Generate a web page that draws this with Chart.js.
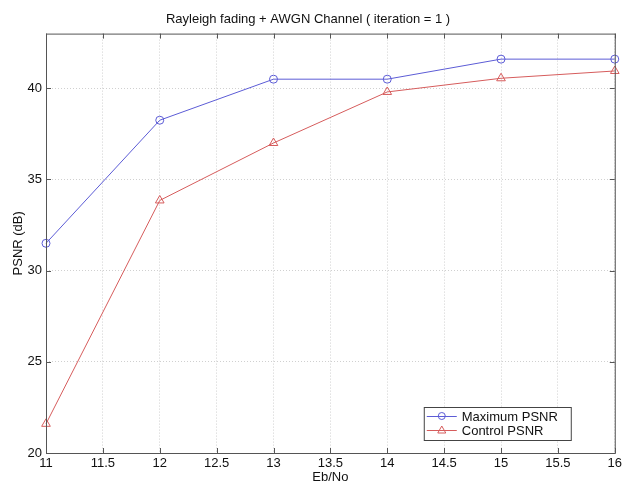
<!DOCTYPE html>
<html>
<head>
<meta charset="utf-8">
<script src="https://cdn.jsdelivr.net/npm/chart.js@4"></script>
<style>
  html, body { margin: 0; padding: 0; background: #fff; }
  #wrap { width: 625px; height: 485px; }
</style>
</head>
<body>
<div id="wrap"><canvas id="psnrChart" width="625" height="485"></canvas></div>
<script>
// Rayleigh fading + AWGN, PSNR vs Eb/No

const ebNo = [11, 12, 13, 14, 15, 16];
const maxPsnr = [31.5, 38.25, 40.5, 40.5, 41.6, 41.6];
const controlPsnr = [21.6, 33.85, 37.0, 39.8, 40.55, 40.95];
const xTicks = [11, 11.5, 12, 12.5, 13, 13.5, 14, 14.5, 15, 15.5, 16];
const yTicks = [20, 25, 30, 35, 40];

const FONT = 'Liberation Sans, Arial, sans-serif';
const BLUE = '#5c5cd6';
const RED = '#d65c5c';

// MATLAB-style box round the axes with inward tick marks
const frameBoxPlugin = {
    id: 'frameBox',
    afterDatasetsDraw(chart) {
        const { ctx, chartArea: a, scales } = chart;
        ctx.save();
        ctx.strokeStyle = '#555';
        ctx.lineWidth = 1;
        ctx.strokeRect(a.left + 0.5, a.top + 0.5, a.right - a.left, a.bottom - a.top);
        ctx.beginPath();
        xTicks.forEach(v => {
            const x = Math.round(scales.x.getPixelForValue(v)) + 0.5;
            ctx.moveTo(x, a.bottom); ctx.lineTo(x, a.bottom - 5);
            ctx.moveTo(x, a.top); ctx.lineTo(x, a.top + 5);
        });
        yTicks.forEach(v => {
            const y = Math.round(scales.y.getPixelForValue(v)) + 0.5;
            ctx.moveTo(a.left, y); ctx.lineTo(a.left + 5, y);
            ctx.moveTo(a.right, y); ctx.lineTo(a.right - 5, y);
        });
        ctx.stroke();
        ctx.restore();
    }
};

// legend box inside the lower right corner
const innerLegendPlugin = {
    id: 'innerLegend',
    afterDraw(chart) {
        const { ctx, chartArea: a } = chart;
        const w = 147, h = 33;
        const x0 = a.right - 44 - w;
        const y0 = a.bottom - 13 - h;
        ctx.save();
        ctx.fillStyle = '#fff';
        ctx.fillRect(x0, y0, w, h);
        ctx.strokeStyle = '#444';
        ctx.lineWidth = 1;
        ctx.strokeRect(x0 + 0.5, y0 + 0.5, w, h);
        ctx.font = `13px ${FONT}`;
        ctx.textBaseline = 'middle';
        chart.data.datasets.forEach((ds, i) => {
            const cy = y0 + 9 + i * 14;
            ctx.strokeStyle = ds.borderColor;
            ctx.beginPath();
            ctx.moveTo(x0 + 3, cy + 0.5);
            ctx.lineTo(x0 + 33, cy + 0.5);
            ctx.stroke();
            ctx.beginPath();
            if (ds.pointStyle === 'circle') {
                ctx.arc(x0 + 18, cy, 3.5, 0, Math.PI * 2);
            } else {
                ctx.moveTo(x0 + 18, cy - 4);
                ctx.lineTo(x0 + 22, cy + 3);
                ctx.lineTo(x0 + 14, cy + 3);
                ctx.closePath();
            }
            ctx.stroke();
            ctx.fillStyle = '#111';
            ctx.fillText(ds.label, x0 + 38, cy + 1);
        });
        ctx.restore();
    }
};

const gridOpts = {
    color: '#d0d0d0',
    lineWidth: 1,
    drawTicks: false
};

new Chart(document.getElementById('psnrChart').getContext('2d'), {
    type: 'line',
    plugins: [frameBoxPlugin, innerLegendPlugin],
    data: {
        datasets: [
            {
                label: 'Maximum PSNR',
                data: ebNo.map((x, i) => ({ x: x, y: maxPsnr[i] })),
                borderColor: BLUE,
                backgroundColor: 'rgba(0,0,0,0)',
                borderWidth: 1,
                pointStyle: 'circle',
                pointRadius: 4,
                pointBorderWidth: 1,
                tension: 0
            },
            {
                label: 'Control PSNR',
                data: ebNo.map((x, i) => ({ x: x, y: controlPsnr[i] })),
                borderColor: RED,
                backgroundColor: 'rgba(0,0,0,0)',
                borderWidth: 1,
                pointStyle: 'triangle',
                pointRadius: 5,
                pointBorderWidth: 1,
                tension: 0
            }
        ]
    },
    options: {
        responsive: false,
        animation: false,
        clip: false,
        layout: { padding: { left: 0, right: 9, top: 0, bottom: 0 } },
        plugins: {
            legend: { display: false },
            tooltip: { enabled: false },
            title: {
                display: true,
                text: 'Rayleigh fading + AWGN Channel ( iteration = 1 )',
                color: '#111',
                font: { family: FONT, size: 13, weight: 'normal' },
                padding: { top: 12, bottom: 6 }
            }
        },
        scales: {
            x: {
                type: 'linear',
                min: 11,
                max: 16,
                afterBuildTicks: scale => { scale.ticks = xTicks.map(v => ({ value: v })); },
                afterFit: scale => { scale.height = 32; },
                grid: gridOpts,
                border: { display: false, dash: [1, 2] },
                ticks: {
                    color: '#111',
                    padding: 3,
                    maxRotation: 0,
                    font: { family: FONT, size: 13 },
                    callback: v => String(v)
                },
                title: {
                    display: true,
                    text: 'Eb/No',
                    color: '#111',
                    font: { family: FONT, size: 13 },
                    padding: { top: 0, bottom: 0 }
                }
            },
            y: {
                type: 'linear',
                min: 20,
                max: 43,
                afterBuildTicks: scale => { scale.ticks = yTicks.map(v => ({ value: v })); },
                afterFit: scale => { scale.width = 46; },
                grid: gridOpts,
                border: { display: false, dash: [1, 2] },
                ticks: {
                    color: '#111',
                    padding: 4,
                    font: { family: FONT, size: 13 },
                    callback: v => String(v)
                },
                title: {
                    display: true,
                    text: 'PSNR (dB)',
                    color: '#111',
                    font: { family: FONT, size: 13 },
                    padding: { top: 11, bottom: 0 }
                }
            }
        }
    }
});
</script>
</body>
</html>
